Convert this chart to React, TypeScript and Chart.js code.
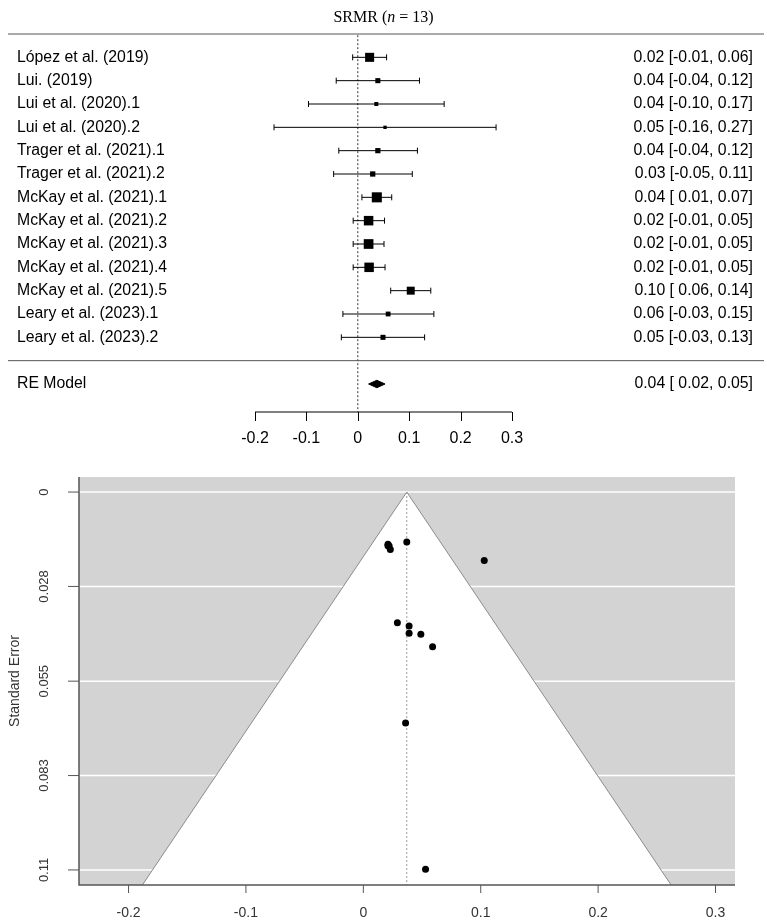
import React, { useEffect, useRef } from "react";
import { Chart, registerables } from "chart.js";

Chart.register(...registerables);

// ---- Study data (SRMR, n = 13) ----
const STUDIES = [
  "López et al. (2019)",
  "Lui. (2019)",
  "Lui et al. (2020).1",
  "Lui et al. (2020).2",
  "Trager et al. (2021).1",
  "Trager et al. (2021).2",
  "McKay et al. (2021).1",
  "McKay et al. (2021).2",
  "McKay et al. (2021).3",
  "McKay et al. (2021).4",
  "McKay et al. (2021).5",
  "Leary et al. (2023).1",
  "Leary et al. (2023).2",
];
const ESTIMATES = [0.023, 0.039, 0.036, 0.053, 0.039, 0.029, 0.037, 0.021, 0.021, 0.022, 0.103, 0.059, 0.049];
const CI_LOWER = [-0.010, -0.042, -0.096, -0.163, -0.037, -0.047, 0.008, -0.009, -0.009, -0.009, 0.064, -0.029, -0.032];
const CI_UPPER = [0.056, 0.120, 0.168, 0.269, 0.116, 0.106, 0.066, 0.052, 0.051, 0.053, 0.142, 0.148, 0.130];
const STD_ERRORS = [0.0168, 0.0413, 0.0675, 0.1103, 0.0392, 0.0382, 0.0146, 0.0157, 0.0153, 0.0158, 0.0200, 0.0452, 0.0416];

// Random-effects summary
const RE_LABEL = "RE Model";
const RE_ESTIMATE = 0.037;
const RE_LOWER = 0.021;
const RE_UPPER = 0.053;

// Axis ticks
const FOREST_TICKS = [-0.2, -0.1, 0, 0.1, 0.2, 0.3];
const FUNNEL_X_TICKS = [-0.2, -0.1, 0, 0.1, 0.2, 0.3];
const SE_TICKS = [0, 0.0276, 0.0553, 0.0829, 0.1105];
const SE_TICK_LABELS = ["0", "0.028", "0.055", "0.083", "0.11"];

// Axis ranges
const FOREST_X_RANGE = [-0.2, 0.3];
const FOREST_ROW_RANGE = [-2.2, 14];
const FUNNEL_X_RANGE = [-0.2422, 0.3166];
const SE_RANGE = [-0.0044, 0.1149];

// ---- Styling ----
const SANS = '"Liberation Sans", Arial, sans-serif';
const SERIF = '"Liberation Serif", "Times New Roman", serif';
const W = 767;
const FOREST_H = 460;
const FUNNEL_H = 464;
const SQUARE_UNIT = 6.7;
const DIAMOND_HALF = 0.16;

const fmt = (v: number) => v.toFixed(2);
const ciText = (est: number, lo: number, hi: number) =>
  `${fmt(est)} [${fmt(lo).padStart(5, " ")}, ${fmt(hi).padStart(4, " ")}]`;

const rows = STUDIES.map((_, i) => STUDIES.length - i);
const TOP_RULE_ROW = STUDIES.length + 1;
const RE_ROW = -1;

function forestConfig(): any {
  const inv = STD_ERRORS.map((s) => 1 / s);
  const wMin = Math.min(...inv);
  const wMax = Math.max(...inv);
  const sideOf = (w: number) => SQUARE_UNIT * (0.5 + (w - wMin) / (wMax - wMin));

  const whiskers = STUDIES.map((_, i) => ({
    data: [
      { x: CI_LOWER[i], y: rows[i] },
      { x: CI_UPPER[i], y: rows[i] },
    ],
    showLine: true,
    borderColor: "#000",
    borderWidth: 1,
    pointStyle: "line",
    pointRotation: 90,
    pointRadius: 3,
    pointBorderColor: "#000",
    pointBorderWidth: 1,
    pointBackgroundColor: "#000",
    fill: false,
    order: 2,
  }));

  const squares = {
    data: ESTIMATES.map((e, i) => ({ x: e, y: rows[i] })),
    showLine: false,
    pointStyle: "rect",
    pointRadius: inv.map((w) => sideOf(w) / Math.SQRT2),
    pointBackgroundColor: "#000",
    pointBorderColor: "#000",
    pointBorderWidth: 0,
    order: 1,
  };

  const diamond = {
    data: [
      { x: RE_LOWER, y: RE_ROW },
      { x: RE_ESTIMATE, y: RE_ROW + DIAMOND_HALF },
      { x: RE_UPPER, y: RE_ROW },
      { x: RE_ESTIMATE, y: RE_ROW - DIAMOND_HALF },
      { x: RE_LOWER, y: RE_ROW },
    ],
    showLine: true,
    fill: "shape",
    backgroundColor: "#000",
    borderColor: "#000",
    borderWidth: 1,
    pointRadius: 0,
    order: 1,
  };

  const zeroLine = {
    data: [
      { x: 0, y: TOP_RULE_ROW - 0.05 },
      { x: 0, y: FOREST_ROW_RANGE[0] },
    ],
    showLine: true,
    borderColor: "#333",
    borderWidth: 1,
    borderDash: [2, 2],
    pointRadius: 0,
    order: 3,
  };

  const decor = {
    id: "forestDecor",
    afterDatasetsDraw(chart: any) {
      const { ctx, chartArea } = chart;
      const x = chart.scales.x;
      const y = chart.scales.y;
      ctx.save();
      ctx.fillStyle = "#000";
      ctx.textBaseline = "middle";

      // title with italic n
      const parts = [
        { t: "SRMR (", f: `16px ${SERIF}` },
        { t: "n", f: `italic 16px ${SERIF}` },
        { t: " = 13)", f: `16px ${SERIF}` },
      ];
      let total = 0;
      parts.forEach((p) => {
        ctx.font = p.f;
        total += ctx.measureText(p.t).width;
      });
      let tx = W / 2 - total / 2;
      ctx.textAlign = "left";
      parts.forEach((p) => {
        ctx.font = p.f;
        ctx.fillText(p.t, tx, 18);
        tx += ctx.measureText(p.t).width;
      });

      // horizontal rules
      ctx.strokeStyle = "#555";
      ctx.lineWidth = 1;
      const yTop = y.getPixelForValue(TOP_RULE_ROW);
      const ySep = y.getPixelForValue(0);
      ctx.beginPath();
      ctx.moveTo(8, yTop);
      ctx.lineTo(W - 3, yTop);
      ctx.moveTo(8, ySep);
      ctx.lineTo(W - 3, ySep);
      ctx.stroke();

      // study labels and values
      ctx.font = `15.8px ${SANS}`;
      STUDIES.forEach((name, i) => {
        const py = y.getPixelForValue(rows[i]);
        ctx.textAlign = "left";
        ctx.fillText(name, 17, py);
        ctx.textAlign = "right";
        ctx.fillText(ciText(ESTIMATES[i], CI_LOWER[i], CI_UPPER[i]), W - 14, py);
      });
      const pyRe = y.getPixelForValue(RE_ROW);
      ctx.textAlign = "left";
      ctx.fillText(RE_LABEL, 17, pyRe);
      ctx.textAlign = "right";
      ctx.fillText(ciText(RE_ESTIMATE, RE_LOWER, RE_UPPER), W - 14, pyRe);

      // x axis
      const axisY = chartArea.bottom;
      ctx.strokeStyle = "#000";
      ctx.beginPath();
      ctx.moveTo(x.getPixelForValue(FOREST_TICKS[0]), axisY);
      ctx.lineTo(x.getPixelForValue(FOREST_TICKS[FOREST_TICKS.length - 1]), axisY);
      FOREST_TICKS.forEach((t) => {
        const px = Math.round(x.getPixelForValue(t)) + 0.5;
        ctx.moveTo(px, axisY);
        ctx.lineTo(px, axisY + 9);
      });
      ctx.stroke();
      ctx.font = `16px ${SANS}`;
      ctx.textAlign = "center";
      FOREST_TICKS.forEach((t) => {
        ctx.fillText(String(Number(t.toFixed(1))), x.getPixelForValue(t), axisY + 27);
      });
      ctx.restore();
    },
  };

  return {
    type: "scatter",
    data: { datasets: [...whiskers, squares, diamond, zeroLine] },
    options: {
      animation: false,
      responsive: false,
      devicePixelRatio: 1,
      events: [],
      layout: { padding: { left: 255, right: 255, top: 34, bottom: 48 } },
      scales: {
        x: { type: "linear", min: FOREST_X_RANGE[0], max: FOREST_X_RANGE[1], display: false },
        y: { type: "linear", min: FOREST_ROW_RANGE[0], max: FOREST_ROW_RANGE[1], display: false },
      },
      plugins: { legend: { display: false }, tooltip: { enabled: false } },
    },
    plugins: [decor],
  };
}

function funnelConfig(): any {
  const seMax = SE_RANGE[1];
  const funnel = {
    data: [
      { x: RE_ESTIMATE - 1.96 * seMax, y: seMax },
      { x: RE_ESTIMATE, y: 0 },
      { x: RE_ESTIMATE + 1.96 * seMax, y: seMax },
    ],
    showLine: true,
    fill: "shape",
    backgroundColor: "#ffffff",
    borderColor: "#8c8c8c",
    borderWidth: 1,
    pointRadius: 0,
    order: 3,
  };
  const centerLine = {
    data: [
      { x: RE_ESTIMATE, y: 0 },
      { x: RE_ESTIMATE, y: seMax },
    ],
    showLine: true,
    borderColor: "#9a9a9a",
    borderWidth: 1,
    borderDash: [2, 2],
    pointRadius: 0,
    order: 2,
  };
  const points = {
    data: ESTIMATES.map((e, i) => ({ x: e, y: STD_ERRORS[i] })),
    showLine: false,
    pointStyle: "circle",
    pointRadius: 3.5,
    pointBackgroundColor: "#000",
    pointBorderColor: "#000",
    pointBorderWidth: 0,
    order: 1,
  };

  const backdrop = {
    id: "funnelBackdrop",
    beforeDatasetsDraw(chart: any) {
      const { ctx, chartArea } = chart;
      const y = chart.scales.y;
      ctx.save();
      ctx.fillStyle = "#d3d3d3";
      ctx.fillRect(chartArea.left, chartArea.top, chartArea.right - chartArea.left, chartArea.bottom - chartArea.top);
      ctx.strokeStyle = "#ffffff";
      ctx.lineWidth = 1.5;
      SE_TICKS.forEach((t) => {
        const py = y.getPixelForValue(t);
        ctx.beginPath();
        ctx.moveTo(chartArea.left, py);
        ctx.lineTo(chartArea.right, py);
        ctx.stroke();
      });
      ctx.restore();
    },
    afterDatasetsDraw(chart: any) {
      const { ctx, chartArea } = chart;
      const x = chart.scales.x;
      const y = chart.scales.y;
      ctx.save();
      ctx.strokeStyle = "#555";
      ctx.lineWidth = 1.5;
      ctx.beginPath();
      ctx.moveTo(chartArea.left, chartArea.top);
      ctx.lineTo(chartArea.left, chartArea.bottom);
      ctx.lineTo(chartArea.right, chartArea.bottom);
      ctx.stroke();

      ctx.lineWidth = 1;
      ctx.beginPath();
      SE_TICKS.forEach((t) => {
        const py = y.getPixelForValue(t);
        ctx.moveTo(chartArea.left, py);
        ctx.lineTo(chartArea.left - 11, py);
      });
      FUNNEL_X_TICKS.forEach((t) => {
        const px = x.getPixelForValue(t);
        ctx.moveTo(px, chartArea.bottom);
        ctx.lineTo(px, chartArea.bottom + 8);
      });
      ctx.stroke();

      ctx.fillStyle = "#333";
      ctx.textBaseline = "middle";
      ctx.textAlign = "center";
      ctx.font = `14px ${SANS}`;
      FUNNEL_X_TICKS.forEach((t) => {
        ctx.fillText(String(Number(t.toFixed(1))), x.getPixelForValue(t), chartArea.bottom + 28);
      });

      ctx.font = `13px ${SANS}`;
      SE_TICKS.forEach((t, i) => {
        const py = y.getPixelForValue(t);
        ctx.save();
        ctx.translate(44, py);
        ctx.rotate(-Math.PI / 2);
        ctx.fillText(SE_TICK_LABELS[i], 0, 0);
        ctx.restore();
      });

      ctx.font = `14px ${SANS}`;
      ctx.save();
      ctx.translate(15, (chartArea.top + chartArea.bottom) / 2);
      ctx.rotate(-Math.PI / 2);
      ctx.fillText("Standard Error", 0, 0);
      ctx.restore();
      ctx.restore();
    },
  };

  return {
    type: "scatter",
    data: { datasets: [funnel, centerLine, points] },
    options: {
      animation: false,
      responsive: false,
      devicePixelRatio: 1,
      events: [],
      layout: { padding: { left: 79, right: 32, top: 17, bottom: 39 } },
      scales: {
        x: { type: "linear", min: FUNNEL_X_RANGE[0], max: FUNNEL_X_RANGE[1], display: false },
        y: { type: "linear", min: SE_RANGE[0], max: SE_RANGE[1], reverse: true, display: false },
      },
      plugins: { legend: { display: false }, tooltip: { enabled: false } },
    },
    plugins: [backdrop],
  };
}

export default function App() {
  const forestRef = useRef<HTMLCanvasElement>(null);
  const funnelRef = useRef<HTMLCanvasElement>(null);

  useEffect(() => {
    const forest = new Chart(forestRef.current as HTMLCanvasElement, forestConfig());
    const funnel = new Chart(funnelRef.current as HTMLCanvasElement, funnelConfig());
    return () => {
      forest.destroy();
      funnel.destroy();
    };
  }, []);

  return (
    <div style={{ position: "absolute", left: 0, top: 0, width: W, height: FOREST_H + FUNNEL_H, background: "#fff" }}>
      <canvas ref={forestRef} width={W} height={FOREST_H} style={{ position: "absolute", left: 0, top: 0 }} />
      <canvas ref={funnelRef} width={W} height={FUNNEL_H} style={{ position: "absolute", left: 0, top: FOREST_H }} />
    </div>
  );
}
